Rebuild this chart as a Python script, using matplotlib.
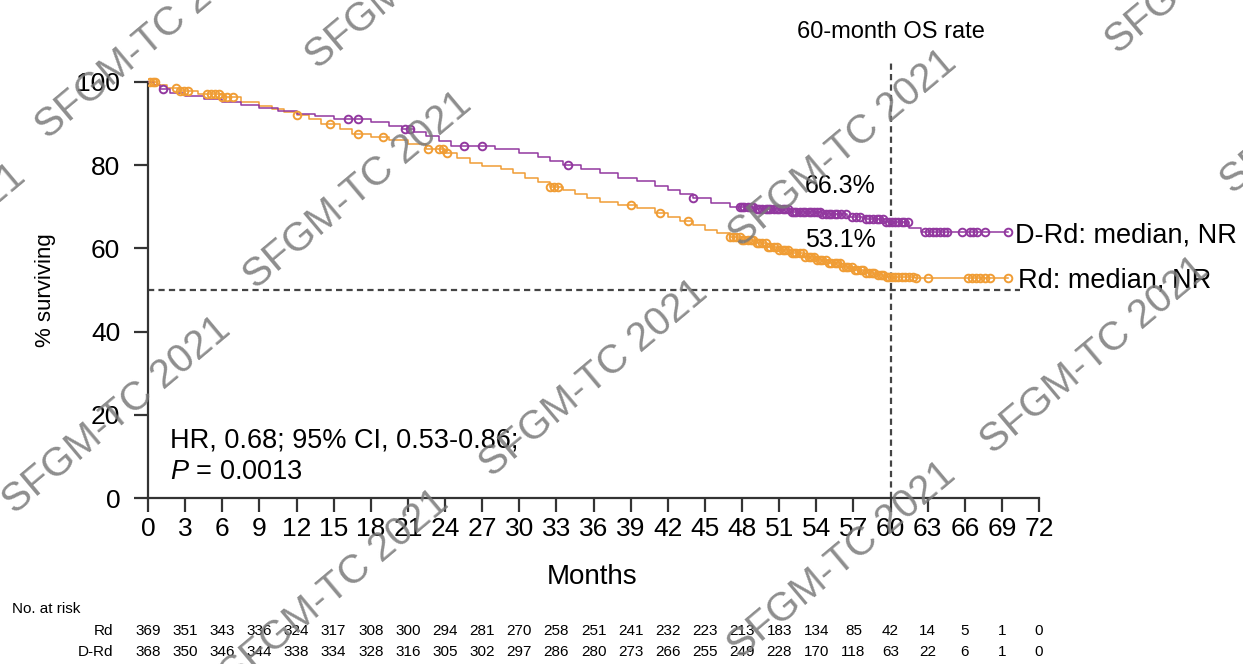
import numpy as np
import matplotlib
matplotlib.use('Agg')
import matplotlib.pyplot as plt
import matplotlib.transforms as mtransforms

plt.rcParams['font.family'] = ['Liberation Sans', 'DejaVu Sans']
plt.rcParams['mathtext.fontset'] = 'custom'
plt.rcParams['mathtext.it'] = 'Liberation Sans:italic'
plt.rcParams['mathtext.rm'] = 'Liberation Sans'

# D-Rd step curve (month, % surviving after the step)
drd_t = [0, 0.5, 1.0, 1.8, 3, 4.5, 6, 7.5, 9, 10.5,
         12, 13.5, 15, 18, 19.5, 20.5, 21.5, 22.5, 23.5, 24.5,
         28, 30, 31.5, 32.5, 33.5, 35, 36.5, 38, 39.5, 41,
         42, 43, 44, 45.5, 47, 49, 52, 54.5, 56.5, 58,
         59.5, 61.5, 62.5]
drd_s = [100, 99.2, 98.3, 97.3, 96.6, 95.9, 95.2, 94.5, 93.8, 93.1,
         92.4, 91.8, 91.2, 90.4, 89.5, 88.7, 87.9, 86.9, 85.8, 84.6,
         83.8, 83.0, 82.0, 81.0, 80.0, 79.0, 78.0, 77.0, 76.2, 75.0,
         74.0, 73.0, 72.0, 71.0, 70.0, 69.5, 68.8, 68.2, 67.6, 67.0,
         66.3, 65.0, 64.0]
drd_end = 69.5
drd_censor = [1.2, 16.2, 17.0, 20.8, 21.2, 25.5, 27.0, 33.9, 44.0, 47.8,
              48.0, 48.2, 48.5, 48.7, 48.9, 49.2, 49.4, 49.6, 49.9, 50.1,
              50.3, 50.6, 50.8, 51.0, 51.3, 51.5, 51.7, 52.0, 52.2, 52.4,
              52.7, 52.9, 53.1, 53.4, 53.6, 53.8, 54.1, 54.3, 54.5, 54.8,
              55.0, 55.2, 55.5, 55.7, 56.0, 56.4, 56.9, 57.2, 57.5, 58.0,
              58.3, 58.6, 58.9, 59.1, 59.4, 59.6, 59.9, 60.1, 60.4, 60.6,
              60.9, 61.1, 61.4, 62.8, 63.1, 63.4, 63.7, 64.0, 64.3, 64.6,
              65.8, 66.4, 66.7, 67.0, 67.6, 69.5]

# Rd step curve
rd_t = [0, 0.7, 1.5, 2.5, 4, 6, 7.5, 9, 10, 11,
        12, 13, 14, 15.5, 16.5, 18, 19.5, 21, 22.5, 24,
        25, 26, 27, 28.5, 29.5, 30.5, 31.5, 32.5, 33.5, 34.5,
        35.5, 36.5, 38, 39.5, 41, 42, 43, 44, 45, 46,
        47, 48, 49, 50, 51, 52, 53, 54, 55, 56,
        57, 58, 59, 59.6, 62]
rd_s = [100, 99.2, 98.5, 97.8, 97.0, 96.3, 95.3, 94.3, 93.5, 92.8,
        92.0, 91.0, 90.0, 88.8, 87.5, 86.8, 86.0, 85.0, 84.0, 83.0,
        81.8, 80.6, 79.8, 79.0, 78.0, 77.0, 76.0, 74.8, 74.0, 73.0,
        72.0, 71.2, 70.4, 69.6, 68.6, 67.6, 66.5, 65.5, 64.5, 63.6,
        62.8, 62.0, 61.2, 60.4, 59.6, 58.8, 58.0, 57.2, 56.4, 55.6,
        54.9, 54.2, 53.6, 53.1, 52.8]
rd_end = 69.5
rd_censor = [0.2, 0.4, 0.6, 2.3, 2.6, 2.9, 3.2, 4.8, 5.1, 5.4,
             5.7, 6.0, 6.4, 6.9, 12.0, 14.7, 17.0, 19.0, 22.6, 23.5,
             23.8, 24.2, 32.5, 32.8, 33.1, 39.0, 41.4, 43.6, 47.0, 47.3,
             47.5, 47.8, 48.0, 48.2, 48.5, 48.7, 48.9, 49.2, 49.4, 49.6,
             49.9, 50.1, 50.3, 50.6, 50.8, 51.0, 51.3, 51.5, 51.7, 52.0,
             52.2, 52.4, 52.7, 52.9, 53.1, 53.4, 53.6, 53.8, 54.1, 54.3,
             54.5, 54.8, 55.0, 55.2, 55.5, 55.7, 55.9, 56.2, 56.4, 56.6,
             56.9, 57.1, 57.3, 57.6, 57.8, 58.0, 58.3, 58.5, 58.7, 59.0,
             59.2, 59.4, 59.7, 59.9, 60.1, 60.4, 60.6, 60.9, 61.2, 61.5,
             61.8, 62.1, 63.0, 66.3, 66.6, 66.9, 67.2, 67.6, 68.0, 69.5]

months = list(range(0, 73, 3))
risk_rd = [369, 351, 343, 336, 324, 317, 308, 300, 294, 281, 270, 258, 251,
           241, 232, 223, 213, 183, 134, 85, 42, 14, 5, 1, 0]
risk_drd = [368, 350, 346, 344, 338, 334, 328, 316, 305, 302, 297, 286, 280,
            273, 266, 255, 249, 228, 170, 118, 63, 22, 6, 1, 0]

PURPLE = '#92389f'
ORANGE = '#f09d35'
W, H = 1243, 664

fig = plt.figure(figsize=(W / 100, H / 100), dpi=100)
ax = fig.add_axes([148 / W, 166 / H, 891 / W, 441 / H])


def draw_km(t, s, end, censor, color):
    tt = np.append(t, end)
    ss = np.append(s, s[-1])
    ax.step(tt, ss, where='post', color=color, lw=1.1, zorder=3)
    idx = np.searchsorted(t, censor, side='right') - 1
    cy = np.asarray(s)[idx]
    ax.plot(censor, cy, 'o', ms=5.5, mfc='none', mec=color, mew=1.4, zorder=4)


draw_km(rd_t, rd_s, rd_end, rd_censor, ORANGE)
draw_km(drd_t, drd_s, drd_end, drd_censor, PURPLE)

# reference lines
ax.plot([0, 70.5], [50, 50], color='#444444', lw=1.6, ls=(0, (2.8, 1.9)), zorder=2, clip_on=False)
ax.plot([60, 60], [0, 104.8], color='#444444', lw=1.6, ls=(0, (2.8, 1.9)), zorder=2, clip_on=False)

ax.set_xlim(0, 72)
ax.set_ylim(0, 106)
ax.set_xticks(months)
ax.set_yticks([0, 20, 40, 60, 80, 100])
ax.spines['top'].set_visible(False)
ax.spines['right'].set_visible(False)
ax.spines['left'].set_bounds(0, 100)
for sp in ['left', 'bottom']:
    ax.spines[sp].set_linewidth(1.6)
    ax.spines[sp].set_color('#333333')
ax.tick_params(axis='x', length=10, width=1.6, color='#333333', labelsize=19, pad=4)
ax.tick_params(axis='y', length=10, width=1.6, color='#333333', labelsize=19, pad=10)

ax.text(60, 112, '60-month OS rate', ha='center', va='center', fontsize=17, clip_on=False)
ax.text(58.8, 75, '66.3%', ha='right', va='center', fontsize=18)
ax.text(58.8, 62, '53.1%', ha='right', va='center', fontsize=18)
ax.text(70.1, 63, 'D-Rd: median, NR', ha='left', va='center', fontsize=19.5, clip_on=False)
ax.text(70.3, 52.2, 'Rd: median, NR', ha='left', va='center', fontsize=19.5, clip_on=False)
ax.text(1.8, 13.9, 'HR, 0.68; 95% CI, 0.53-0.86;', ha='left', va='center', fontsize=19.5)
ax.text(1.8, 6.3, '$P$ = 0.0013', ha='left', va='center', fontsize=19.5)

fig.text(45 / W, 1 - 290 / H, '% surviving', rotation=90, ha='center', va='center', fontsize=16)
fig.text(592 / W, 1 - 577 / H, 'Months', ha='center', va='center', fontsize=20)

# number at risk table
trans = mtransforms.blended_transform_factory(ax.transData, fig.transFigure)
fig.text(12 / W, 1 - 609 / H, 'No. at risk', ha='left', va='center', fontsize=11)
fig.text(113 / W, 1 - 631 / H, 'Rd', ha='right', va='center', fontsize=11)
fig.text(113 / W, 1 - 652 / H, 'D-Rd', ha='right', va='center', fontsize=11)
for m, a, b in zip(months, risk_rd, risk_drd):
    ax.text(m, 1 - 631 / H, str(a), transform=trans, ha='center', va='center', fontsize=11, clip_on=False)
    ax.text(m, 1 - 652 / H, str(b), transform=trans, ha='center', va='center', fontsize=11, clip_on=False)

# watermarks (partly outside the frame, as in the source)
wm_x = [150, 420, 358, 843, 1220, 1335, 1095, 594, 117, 335, 842, -88]
wm_y = [40, -30, 190, 148, -45, 95, 355, 378, 415, 588, 560, 262]
for x, y in zip(wm_x, wm_y):
    fig.text(x / W, 1 - y / H, 'SFGM-TC 2021', rotation=40, ha='center', va='center',
             rotation_mode='anchor', fontsize=29, color='#7a7a7a', alpha=0.85, zorder=10)

fig.savefig('out.png', dpi=100)
